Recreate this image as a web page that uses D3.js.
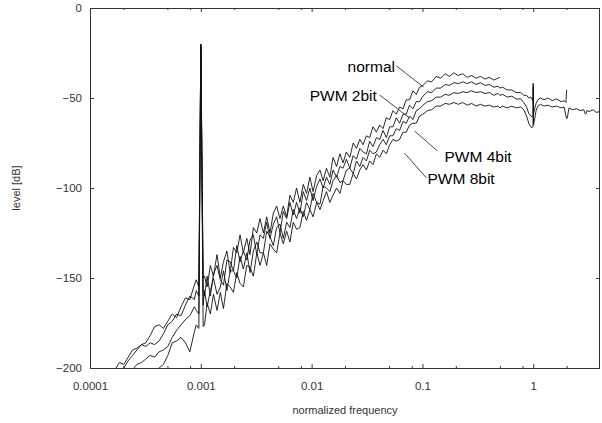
<!DOCTYPE html>
<html>
<head>
<meta charset="utf-8">
<script src="https://cdn.jsdelivr.net/npm/d3@7"></script>
<style>
  html, body { margin: 0; padding: 0; background: #fff; }
  text { font-family: "Liberation Sans", Arial, sans-serif; }
  .axis text { font-size: 11.5px; fill: #333; }
  .axis line { stroke: #333; }
  .title { font-size: 11px; fill: #333; }
  .note { font-size: 15.5px; fill: #000; }
</style>
</head>
<body>
<div id="chart"></div>
<script>
// Shared frequency grid (normalized frequency)
const FREQ = [
  // below the tone
  0.000140, 0.000153, 0.000168, 0.000184, 0.000202, 0.000221, 0.000242, 0.000265, 0.000291, 0.000319,
  0.000349, 0.000383, 0.000420, 0.000460, 0.000504, 0.000552, 0.000605, 0.000663, 0.000727, 0.000796,
  0.000873, 0.000910,
  // tone at 0.001
  0.00096, 0.00100, 0.00105,
  // rising part
  0.00108, 0.00114, 0.00122, 0.00130, 0.00140, 0.00150, 0.00160, 0.00172, 0.00184, 0.00197,
  0.00211, 0.00226, 0.00242, 0.00260, 0.00278, 0.00298, 0.00320, 0.00342, 0.00367, 0.00393,
  0.00421, 0.00451, 0.00483, 0.00518, 0.00555, 0.00595, 0.00637, 0.00683, 0.00731, 0.00784,
  0.00840, 0.00900, 0.00964, 0.0103, 0.0111, 0.0119, 0.0127, 0.0136, 0.0146, 0.0156,
  0.0168, 0.0180, 0.0192, 0.0206, 0.0221, 0.0237, 0.0254, 0.0272, 0.0291, 0.0312,
  0.0334, 0.0358, 0.0384, 0.0411, 0.0441, 0.0472, 0.0506, 0.0542, 0.0581, 0.0622,
  0.0667, 0.0714, 0.0765, 0.0820, 0.0879, 0.0941,
  // top part
  0.101, 0.111, 0.121, 0.133, 0.146, 0.160, 0.175, 0.192, 0.211, 0.231,
  0.253, 0.278, 0.304, 0.334, 0.366, 0.401, 0.440, 0.482, 0.500, 0.53,
  0.58, 0.64, 0.70, 0.77, 0.82, 0.87, 0.91, 0.95, 0.98, 0.995,
  1.0, 1.005, 1.02, 1.06, 1.10, 1.16, 1.25, 1.36, 1.48, 1.62,
  1.78, 1.90, 1.97, 2.0, 2.03, 2.1, 2.25, 2.45, 2.65, 2.85,
  2.95, 3.0, 3.05, 3.2, 3.45, 3.7, 4.0
];

// Levels in dB, one array per curve (each one stops where its trace stops)
const NORMAL = [
  -212, -206, -201, -197, -198, -194, -190, -189, -187, -186,
  -182, -177, -176, -178, -174, -170, -172, -166, -161, -162,
  -154, -151,
  -155, -20, -150,
  -149, -155, -143, -149, -137, -150, -141, -135, -147, -133,
  -136, -126, -136, -128, -137, -122, -125, -117, -125, -116,
  -125, -114, -110, -117, -110, -116, -104, -108, -100, -108,
  -98, -103, -94, -102, -93, -90, -96, -89, -94, -83,
  -88, -81, -86, -80, -83, -75, -78, -73, -76, -71,
  -72, -66, -69, -65, -67, -61, -62, -57, -59, -55,
  -56, -51, -51, -46, -48, -44,
  -43, -40.5, -41, -38, -39, -36.5, -38, -36, -37.5, -36.5,
  -38.5, -37.5, -39, -38, -39.5, -38.5, -40, -39, -38.5
];

const PWM2 = [
  -218, -212, -207, -204, -200, -196, -193, -190, -187, -188,
  -186, -187, -185, -181, -176, -174, -170, -171, -165, -160,
  -162, -157,
  -160, -21, -158,
  -160, -149, -160, -148, -143, -151, -154, -140, -141, -146,
  -132, -141, -135, -140, -129, -126, -137, -126, -128, -119,
  -128, -120, -116, -125, -113, -117, -108, -115, -108, -114,
  -102, -107, -100, -107, -99, -95, -100, -94, -98, -90,
  -94, -88, -89, -84, -89, -82, -84, -78, -80, -81,
  -74, -77, -72, -73, -68, -72, -66, -66, -61, -64,
  -59, -59, -54, -56, -52, -52,
  -49, -46.5, -47, -44.5, -44.5, -42.5, -43, -41.5, -42, -41,
  -42, -41, -42.5, -41.5, -43, -42.5, -44, -43.5, -44.5, -44,
  -45.5, -45.5, -47, -47, -48.5, -48.5, -50, -49.5, -51, -52,
  -42
];

const PWM4 = [
  -225, -220, -214, -210, -207, -204, -201, -198, -197, -195,
  -193, -194, -191, -190, -188, -183, -179, -176, -173, -171,
  -166, -168,
  -170, -22, -165,
  -157, -166, -157, -150, -159, -155, -146, -157, -146, -146,
  -150, -138, -145, -136, -147, -135, -130, -136, -136, -124,
  -127, -132, -122, -120, -128, -119, -122, -112, -117, -111,
  -116, -108, -112, -103, -108, -109, -99, -100, -102, -96,
  -93, -97, -96, -90, -89, -92, -85, -88, -83, -85,
  -79, -81, -80, -76, -73, -76, -71, -71, -67, -68,
  -63, -64, -60, -62, -57, -56,
  -54, -52, -51.5, -49.5, -49.5, -48, -48.5, -47, -47.5, -46.5,
  -47, -46, -47, -46.5, -47.5, -47, -48.5, -47.5, -48.5, -48,
  -49.5, -49, -50.5, -50.5, -52.5, -55, -58.5, -60, -60.5, -60,
  -42, -59, -57, -53, -51, -50, -51, -50, -51.5, -50.5,
  -52, -51.5, -52.5, -45.5
];

const PWM8 = [
  -235, -230, -226, -222, -218, -215, -212, -209, -207, -205,
  -203, -202, -200, -198, -193, -186, -185, -183, -186, -191,
  -180, -176,
  -178, -20, -177,
  -176, -164, -170, -159, -168, -158, -167, -153, -155, -158,
  -147, -153, -155, -143, -144, -149, -136, -143, -136, -143,
  -131, -134, -136, -125, -131, -124, -130, -119, -123, -122,
  -113, -118, -112, -116, -108, -112, -107, -102, -108, -104,
  -100, -103, -96, -98, -98, -92, -95, -90, -87, -90,
  -85, -87, -81, -83, -79, -81, -76, -73, -74, -73,
  -69, -69, -65, -64, -64, -60,
  -59, -57, -56.5, -54.5, -54.5, -53, -53.5, -52.5, -53.5, -52.5,
  -54, -53, -54.5, -53.5, -54.5, -54, -55, -54.5, -55.5, -54.5,
  -55.5, -54.5, -55.5, -55, -56.5, -60, -64, -66, -66.5, -66,
  -44, -65, -63, -57, -54.5, -53.5, -54.5, -54, -55, -54.5,
  -55.5, -55, -60, -61.5, -61, -55.5, -56.5, -56, -57, -56.5,
  -59, -58.5, -57, -57.5, -56.5, -58, -57.5
];

// Axis ticks
const X_TICKS = [0.0001, 0.001, 0.01, 0.1, 1];
const X_LABELS = ["0.0001", "0.001", "0.01", "0.1", "1"];
const X_MINOR = [0.0002, 0.0005, 0.0008, 0.002, 0.005, 0.008, 0.02, 0.05, 0.08, 0.2, 0.5, 0.8, 2];
const Y_TICKS = [0, -50, -100, -150, -200];

// Curve labels: text anchor and leader line, in data units
const LABELS = ["normal", "PWM 2bit", "PWM 4bit", "PWM 8bit"];
const LABEL_AT = [[0.0211, -35.6], [0.0096, -51.4], [0.158, -85.6], [0.111, -98]];
const LEADER_FROM = [[0.0583, -32.2], [0.041, -48.3], [0.1365, -79.4], [0.1086, -94.4]];
const LEADER_TO = [[0.102, -43.9], [0.0764, -61.1], [0.0847, -68.3], [0.0689, -80.6]];

// ---------------- chart ---------------- //

const width = 602,
  height = 423,
  padLeft = 90,
  padRight = 2,
  padTop = 8,
  padBtm = 55;

const svg = d3.select("#chart")
  .append("svg")
  .attr("width", width)
  .attr("height", height);

const xScale = d3.scaleLog()
  .domain([0.0001, 4])
  .range([padLeft, width - padRight]);

const yScale = d3.scaleLinear()
  .domain([-200, 0])
  .range([height - padBtm, padTop]);

svg.append("clipPath")
  .attr("id", "plot-clip")
  .append("rect")
  .attr("x", padLeft)
  .attr("y", padTop)
  .attr("width", width - padRight - padLeft)
  .attr("height", height - padBtm - padTop);

// bottom axis with labels, ticks pointing inward
svg.append("g")
  .attr("class", "x axis")
  .attr("transform", "translate(0," + (height - padBtm) + ")")
  .call(d3.axisBottom(xScale)
    .tickValues(X_TICKS)
    .tickFormat((d, i) => X_LABELS[i])
    .tickSizeInner(-4)
    .tickSizeOuter(0)
    .tickPadding(14))
  .call(g => g.select(".domain").remove());

// minor ticks at bottom
svg.append("g")
  .attr("class", "x axis minor")
  .attr("transform", "translate(0," + (height - padBtm) + ")")
  .call(d3.axisBottom(xScale).tickValues(X_MINOR).tickFormat("").tickSizeInner(-2).tickSizeOuter(0))
  .call(g => g.select(".domain").remove());

// mirrored ticks on top
svg.append("g")
  .attr("class", "x axis top")
  .attr("transform", "translate(0," + padTop + ")")
  .call(d3.axisTop(xScale).tickValues(X_TICKS).tickFormat("").tickSizeInner(-4).tickSizeOuter(0))
  .call(g => g.select(".domain").remove());
svg.append("g")
  .attr("class", "x axis top")
  .attr("transform", "translate(0," + padTop + ")")
  .call(d3.axisTop(xScale).tickValues(X_MINOR).tickFormat("").tickSizeInner(-2).tickSizeOuter(0))
  .call(g => g.select(".domain").remove());

// left axis with labels
svg.append("g")
  .attr("class", "y axis")
  .attr("transform", "translate(" + padLeft + ",0)")
  .call(d3.axisLeft(yScale)
    .tickValues(Y_TICKS)
    .tickSizeInner(-4)
    .tickSizeOuter(0)
    .tickPadding(8))
  .call(g => g.select(".domain").remove());

// mirrored ticks on the right
svg.append("g")
  .attr("class", "y axis right")
  .attr("transform", "translate(" + (width - padRight) + ",0)")
  .call(d3.axisRight(yScale).tickValues(Y_TICKS).tickFormat("").tickSizeInner(-4).tickSizeOuter(0))
  .call(g => g.select(".domain").remove());

// frame
svg.append("rect")
  .attr("x", padLeft + 0.5)
  .attr("y", padTop + 0.5)
  .attr("width", width - padRight - padLeft - 1)
  .attr("height", height - padBtm - padTop)
  .style("fill", "none")
  .style("stroke", "#333");

// axis titles
svg.append("text")
  .attr("class", "title")
  .attr("text-anchor", "middle")
  .attr("x", (padLeft + width - padRight) / 2)
  .attr("y", height - 9)
  .text("normalized frequency");

svg.append("text")
  .attr("class", "title")
  .attr("text-anchor", "middle")
  .attr("transform", "translate(20," + ((padTop + height - padBtm) / 2) + ") rotate(-90)")
  .text("level [dB]");

// the four spectra
const line = d3.line()
  .x(d => xScale(d[0]))
  .y(d => yScale(d[1]));

const curves = [NORMAL, PWM2, PWM4, PWM8];

svg.append("g")
  .attr("class", "spectra")
  .attr("clip-path", "url(#plot-clip)")
  .selectAll("path")
  .data(curves)
  .enter()
  .append("path")
  .attr("d", levels => line(levels.map((v, i) => [FREQ[i], v])))
  .style("fill", "none")
  .style("stroke", "#111")
  .style("stroke-width", 0.9);

// curve labels with leader lines
const notes = svg.append("g").attr("class", "notes");

notes.selectAll("line")
  .data(LABELS)
  .enter()
  .append("line")
  .attr("x1", (d, i) => xScale(LEADER_FROM[i][0]))
  .attr("y1", (d, i) => yScale(LEADER_FROM[i][1]))
  .attr("x2", (d, i) => xScale(LEADER_TO[i][0]))
  .attr("y2", (d, i) => yScale(LEADER_TO[i][1]))
  .style("stroke", "#333")
  .style("stroke-width", 0.9);

notes.selectAll("text")
  .data(LABELS)
  .enter()
  .append("text")
  .attr("class", "note")
  .attr("x", (d, i) => xScale(LABEL_AT[i][0]))
  .attr("y", (d, i) => yScale(LABEL_AT[i][1]))
  .text(d => d);
</script>
</body>
</html>
